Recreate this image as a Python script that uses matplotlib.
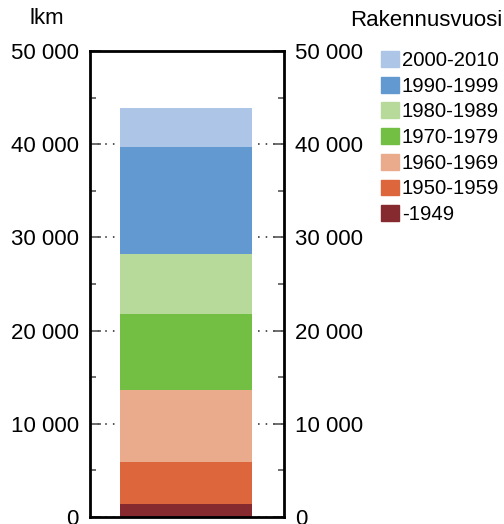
import numpy as np
import matplotlib.pyplot as plt
from matplotlib.ticker import MultipleLocator, FuncFormatter
from matplotlib.patches import Patch

plt.rcParams['font.family'] = ['Liberation Sans', 'DejaVu Sans']

# construction periods, bottom to top, and km per period
periods = ['-1949', '1950-1959', '1960-1969', '1970-1979',
           '1980-1989', '1990-1999', '2000-2010']
km = [1400, 4500, 7750, 8150, 6400, 11500, 4150]
colors = ['#862a30', '#dd663c', '#eaab8c', '#72bf44',
          '#b7da9a', '#6399d1', '#adc6e7']

fig = plt.figure(figsize=(5.04, 5.24), dpi=100)
ax = fig.add_axes([90/504, 1 - 517/524, (284-90)/504, (517-51)/524])

bottom = 0
for p, v, c in zip(periods, km, colors):
    ax.bar(0.497, v, width=0.68, bottom=bottom, color=c, zorder=2)
    bottom += v

ax.set_xlim(0, 1)
ax.set_ylim(0, 50000)
ax.set_xticks([])
ax.yaxis.set_major_locator(MultipleLocator(10000))
ax.yaxis.set_minor_locator(MultipleLocator(5000))
ax.yaxis.set_major_formatter(FuncFormatter(lambda v, p: f'{int(v):,}'.replace(',', ' ')))
ax.tick_params(axis='y', which='both', direction='in', left=True, right=True,
               labelleft=True, labelright=True, labelsize=16, color='#555555')
ax.tick_params(axis='y', which='major', length=8, width=1.2, pad=8)
ax.tick_params(axis='y', which='minor', length=4, width=1.2)
ax.grid(axis='y', which='major', color='#222222', linestyle=(0, (1, 4)), linewidth=1.1, zorder=1)
for s in ax.spines.values():
    s.set_linewidth(2)

fig.text(47/504, 1 - 18/524, 'lkm', ha='center', va='center', fontsize=16)
fig.text(502/504, 1 - 20/524, 'Rakennusvuosi', ha='right', va='center', fontsize=16)

handles = [Patch(color=c, label=p) for p, c in zip(periods, colors)][::-1]
fig.legend(handles=handles, loc='upper left', bbox_to_anchor=(381/504, 1 - 51/524),
           frameon=False, fontsize=14.6, handlelength=0.87, handleheight=0.82,
           handletextpad=0.15, labelspacing=0.33, borderaxespad=0, borderpad=0)

fig.savefig('out.png', dpi=100)
